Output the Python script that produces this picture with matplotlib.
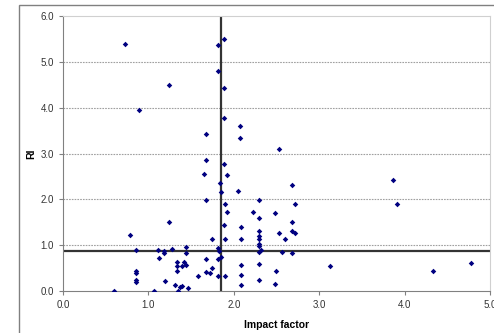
#!/usr/bin/env python3

import matplotlib.pyplot as plt
from matplotlib.patches import Rectangle

plt.rcParams['font.family'] = ['Liberation Sans', 'DejaVu Sans']

# impact factor (x) and RI (y)
impact = [0.73, 0.89, 1.24, 1.81, 1.89, 1.82, 1.89, 1.89, 2.07, 2.07,
          1.67, 1.67, 1.89, 2.53, 1.65, 1.92, 1.84, 1.85, 2.05, 1.67,
          1.90, 1.92, 1.89, 1.24, 0.79, 1.75, 1.90, 2.09, 2.09, 0.85,
          1.11, 1.18, 1.18, 1.28, 1.44, 1.44, 1.81, 1.83, 1.12, 1.34,
          1.34, 1.34, 1.39, 1.42, 1.44, 0.85, 0.85, 0.85, 0.85, 0.60,
          1.07, 1.19, 1.31, 1.35, 1.37, 1.39, 1.46, 1.58, 1.67, 1.67,
          1.72, 1.75, 1.82, 1.85, 1.82, 1.90, 2.09, 2.09, 2.09, 2.68,
          3.87, 3.91, 2.72, 2.30, 2.22, 2.48, 2.30, 2.68, 2.30, 2.53,
          2.68, 2.72, 2.60, 2.30, 2.30, 2.30, 2.30, 2.32, 2.30, 2.57,
          2.68, 2.30, 2.30, 2.49, 2.48, 3.13, 4.33, 4.78]
ri = [5.40, 3.96, 4.50, 5.36, 5.50, 4.79, 4.43, 3.78, 3.59, 3.33,
      3.43, 2.86, 2.77, 3.09, 2.55, 2.53, 2.35, 2.15, 2.19, 1.99,
      1.89, 1.72, 1.44, 1.50, 1.22, 1.14, 1.14, 1.39, 1.14, 0.89,
      0.89, 0.88, 0.84, 0.91, 0.96, 0.82, 0.93, 0.88, 0.71, 0.63,
      0.55, 0.44, 0.55, 0.63, 0.56, 0.44, 0.40, 0.23, 0.19, 0.00,
      0.00, 0.22, 0.14, 0.00, 0.08, 0.11, 0.06, 0.32, 0.70, 0.41,
      0.39, 0.51, 0.69, 0.75, 0.32, 0.32, 0.57, 0.35, 0.13, 2.31,
      2.43, 1.89, 1.89, 1.99, 1.72, 1.70, 1.60, 1.51, 1.32, 1.26,
      1.31, 1.26, 1.14, 1.19, 1.14, 1.03, 0.99, 0.89, 0.85, 0.85,
      0.84, 0.58, 0.23, 0.44, 0.16, 0.55, 0.44, 0.62]

x_cut = 1.85
y_cut = 0.87

fig = plt.figure(figsize=(4.94, 3.33), dpi=100)
fig.patches.append(Rectangle((19 / 494, -0.1), 1.1, 1 - 5 / 333 + 0.1,
                             transform=fig.transFigure, fill=False,
                             edgecolor='#808080', linewidth=1.0))
ax = fig.add_axes([63 / 494, 42 / 333, 427 / 494, 275 / 333])

for y in [1, 2, 3, 4, 5]:
    ax.axhline(y, color='#a0a0a0', linestyle=(0, (1.5, 1.0)), linewidth=0.8, zorder=1)

ax.axvline(x_cut, color='#333333', linewidth=1.6, zorder=2)
ax.axhline(y_cut, color='#333333', linewidth=1.6, zorder=2)

ax.scatter(impact, ri, marker='D', s=8, color='#000080', zorder=3, linewidths=0)

ax.set_xlim(0, 5)
ax.set_ylim(0, 6)
ax.set_xticks([0, 1, 2, 3, 4, 5])
ax.set_yticks([0, 1, 2, 3, 4, 5, 6])
ax.set_xticklabels(['0.0', '1.0', '2.0', '3.0', '4.0', '5.0'])
ax.set_yticklabels(['0.0', '1.0', '2.0', '3.0', '4.0', '5.0', '6.0'])
ax.tick_params(labelsize=7, colors='#333333', length=3, width=0.8)
ax.tick_params(axis='both', color='#808080')

for side in ['left', 'bottom']:
    ax.spines[side].set_color('#808080')
for side in ['top', 'right']:
    ax.spines[side].set_color('#d0d0d0')

ax.set_xlabel('Impact factor', fontsize=7.5, fontweight='bold', labelpad=7)
ax.set_ylabel('RI', fontsize=7.5, fontweight='bold', labelpad=3)

fig.savefig('out.png', dpi=100)
